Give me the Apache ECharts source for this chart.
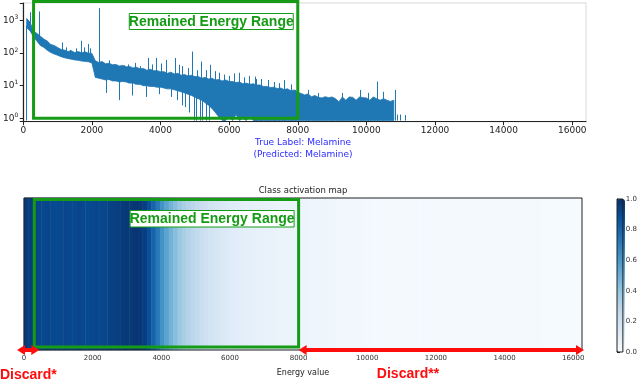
<!DOCTYPE html>
<html>
<head>
<meta charset="utf-8">
<script src="https://cdn.jsdelivr.net/npm/echarts@6/dist/echarts.min.js"></script>
<style>
  html, body { margin: 0; padding: 0; background: #fff; }
  #main { width: 640px; height: 381px; }
</style>
</head>
<body>
<div id="main"></div>
<script>
// spectrum band, read every 100 energy units from 100 to 10800
var bandStart = 100;
var bandStep = 100;
var bandUpper = [
    1150, 880, 470, 400, 330, 270, 235, 185, 172, 150,
    130, 124, 112, 118, 104, 112, 102, 110, 100, 98,
    58, 52, 55, 47, 49, 44, 45, 40, 42, 38,
    39, 35, 37, 33, 34, 30, 32, 29, 29, 27,
    27, 24, 26, 23, 24, 21, 22, 20, 21, 19,
    19, 17, 18, 16, 17, 15, 15.5, 14, 15, 13.5,
    13.5, 12.5, 13, 11.5, 12, 11, 11.5, 10.5, 10.5, 9.5,
    9.5, 8.8, 9, 8.2, 8.5, 7.6, 8, 7, 7.4, 6.2,
    5.8, 5.2, 5.6, 4.6, 5, 4.4, 4.2, 4.6, 4.3, 4.5,
    4, 3.2, 4.5, 3.6, 4.5, 4.4, 3.6, 4.5, 4.3, 4.2,
    3.6, 4.5, 4, 3.6, 4, 3.6, 3.3, 3.6
];
var bandLower = [
    600, 480, 320, 230, 170, 150, 122, 105, 94, 86,
    78, 72, 68, 65, 62, 60, 57, 56, 54, 50,
    18, 17, 16, 15, 15.5, 14, 14, 13, 13.5, 13,
    12, 12, 11, 11, 10, 10, 9.5, 9.5, 9, 9,
    8.5, 8, 8, 7.5, 7, 6.5, 6, 5.5, 5, 4.5,
    4, 3.6, 3, 2.5, 2, 1.5, 1.1, 0.85, 0.85, 1.2,
    0.85, 1.3, 0.85, 1, 0.85, 1.2, 0.85, 0.85, 0.85, 0.85,
    0.85, 0.85, 0.85, 0.85, 0.85, 0.85, 0.85, 0.85, 0.85, 0.85,
    0.85, 0.85, 0.85, 0.85, 0.85, 0.85, 0.85, 0.85, 0.85, 0.85,
    0.85, 0.85, 0.85, 0.85, 0.85, 0.85, 0.85, 0.85, 0.85, 0.85,
    0.85, 0.85, 0.85, 0.85, 0.85, 0.85, 0.85, 0.85
];
// single channels standing out of the band: [energy, from, to]
var spikes = [
    [75, 0.85, 700], [200, 500, 1800], [475, 200, 1900], [1140, 80, 212], [1250, 72, 150],
    [1380, 70, 126], [1550, 62, 140], [1690, 60, 240], [1780, 56, 150], [1880, 55, 190],
    [1950, 55, 140], [2204, 20, 2400], [2350, 16, 38], [2420, 6, 20], [2500, 15, 60],
    [2640, 14, 44], [2790, 3.6, 14], [2930, 13, 42], [3050, 12, 45], [3180, 5, 13],
    [3250, 11, 50], [3420, 11, 40], [3570, 4.5, 10], [3640, 10, 71], [3760, 10, 45],
    [3890, 9, 71], [3950, 5.5, 10], [4020, 9, 48], [4170, 8, 62], [4300, 4.5, 8],
    [4440, 7.5, 71], [4500, 3.6, 8], [4560, 7, 44], [4620, 2.5, 7], [4640, 6.5, 40],
    [4730, 2.2, 6], [4800, 5.5, 35], [4850, 1.5, 6], [4925, 5, 112], [4970, 0.85, 5],
    [5050, 0.85, 5], [5080, 4, 30], [5150, 0.85, 4], [5200, 3.6, 55], [5220, 0.85, 4],
    [5330, 3, 30], [5340, 0.85, 3], [5430, 0.85, 3], [5460, 2.5, 44], [5600, 1.5, 28],
    [5720, 1.1, 25], [5850, 0.85, 22], [6000, 1, 20], [6140, 1, 24], [6300, 1, 25],
    [6450, 1, 18], [6600, 1, 20], [6750, 0.85, 19], [6790, 0.85, 16], [6950, 0.85, 16],
    [7150, 0.85, 15], [7300, 0.85, 13], [7450, 0.85, 12], [7620, 0.85, 15], [7800, 0.85, 11],
    [7940, 0.85, 7.4], [8310, 0.85, 7.4], [8600, 0.85, 6], [9300, 0.85, 6], [9810, 0.85, 7.4],
    [10050, 0.85, 6], [10320, 0.85, 13.4], [10500, 0.85, 6.5], [10830, 0.85, 7.4], [10900, 0.85, 1.3],
    [11000, 0.85, 1.3], [11130, 0.85, 1.25]
];

// class activation map, 127 bins of 128 energy units
var camBinWidth = 128;
var camValues = [
    0.96, 0.95, 0.94,
    0.92, 0.91, 0.92, 0.91, 0.9, 0.91, 0.92, 0.91, 0.91, 0.92, 0.91, 0.9, 0.91, 0.92, 0.91, 0.92, 0.93, 0.94, 0.95,
    0.96, 0.97, 0.97, 0.98, 0.97, 0.95,
    0.88, 0.8, 0.72, 0.62, 0.55, 0.48, 0.43, 0.38, 0.34, 0.31, 0.28, 0.26, 0.23, 0.21, 0.19, 0.17, 0.155, 0.14, 0.13, 0.12,
    0.11, 0.1, 0.095, 0.09, 0.085, 0.08, 0.075, 0.07, 0.068, 0.065, 0.062, 0.06, 0.058, 0.055, 0.052,
    0.05, 0.048, 0.046, 0.045, 0.045, 0.044, 0.042, 0.04,
    0.035, 0.032, 0.03, 0.03, 0.03, 0.028, 0.027, 0.025,
    0.018, 0.017, 0.016, 0.016, 0.015, 0.015, 0.016, 0.015, 0.015, 0.014, 0.015, 0.015, 0.016, 0.015, 0.015,
    0.014, 0.015, 0.015, 0.015, 0.014, 0.015, 0.015, 0.016, 0.015, 0.014, 0.015, 0.015, 0.014, 0.015, 0.015,
    0.014, 0.015, 0.014, 0.015, 0.014, 0.013, 0.014, 0.013, 0.012,
    0.011, 0.011, 0.01, 0.01, 0.01, 0.01, 0.01, 0.01, 0.01
];

var blues = ['#f7fbff', '#deebf7', '#c6dbef', '#9ecae1', '#6baed6', '#4292c6', '#2171b5', '#08519c', '#08306b'];
var keepRange = [300, 8000];
var trueLabel = 'Melamine';
var predLabel = 'Melamine';

var blue = '#1f77b4';
var green = '#169b16';
var red = '#ff0d0d';
var tickFont = 'DejaVu Sans';

var bandData = bandUpper.map(function (u, i) { return [bandStart + bandStep * i, u, bandLower[i]]; });
var spikeLines = spikes.map(function (s) { return { coords: [[s[0], s[1]], [s[0], s[2]]] }; });
var camCats = camValues.map(function (v, i) { return String(i * camBinWidth); });
var camData = camValues.map(function (v, i) { return [i, 0, v]; });

// whole band as one polygon: upper edge left to right, lower edge back
function renderBand(params, api) {
    if (params.dataIndex !== 0) return;
    var top = [], bottom = [];
    bandData.forEach(function (d) {
        top.push(api.coord([d[0], d[1]]));
        bottom.unshift(api.coord([d[0], d[2]]));
    });
    return {
        type: 'polygon',
        shape: { points: top.concat(bottom) },
        style: { fill: blue, stroke: blue, lineWidth: 0.8 }
    };
}

var chart = echarts.init(document.getElementById('main'));
var option = {
    animation: false,
    backgroundColor: '#fff',
    textStyle: { fontFamily: tickFont },
    grid: [
        { left: 23, right: 54, top: 3, height: 118.7, show: true, borderColor: '#e6e6e6', borderWidth: 1.5, backgroundColor: 'transparent' },
        { left: 24, right: 58, top: 198, height: 152, show: true, borderColor: '#222', borderWidth: 1, backgroundColor: 'transparent', z: 3 },
        { left: 617, width: 8, top: 199, height: 153, show: true, borderColor: '#222', borderWidth: 1, backgroundColor: 'transparent', z: 5 }
    ],
    xAxis: [
        {
            type: 'value', gridIndex: 0, min: 0, max: 16400, interval: 2000,
            axisLine: { lineStyle: { color: '#222', width: 1.2 } },
            axisTick: { length: 3.5, lineStyle: { color: '#222' } },
            axisLabel: { fontSize: 9, color: '#222', margin: 4, showMaxLabel: false, fontFamily: tickFont, formatter: function (v) { return String(v); } },
            splitLine: { show: false }
        },
        {
            type: 'category', gridIndex: 1, data: camCats, show: false
        },
        {
            type: 'value', gridIndex: 1, min: 0, max: 16256, interval: 2000, position: 'bottom',
            axisLine: { lineStyle: { color: '#222', width: 1 } },
            axisTick: { length: 3, lineStyle: { color: '#222' } },
            axisLabel: { fontSize: 7, color: '#333', margin: 5, showMaxLabel: false, fontFamily: tickFont, formatter: function (v) { return String(v); } },
            splitLine: { show: false },
            name: 'Energy value', nameLocation: 'middle', nameGap: 19,
            nameTextStyle: { fontSize: 8, color: '#222', fontFamily: tickFont }
        },
        { type: 'value', gridIndex: 2, min: 0, max: 1, show: false }
    ],
    yAxis: [
        {
            type: 'log', gridIndex: 0, min: 0.785, max: 3460, logBase: 10,
            axisLine: { show: true, lineStyle: { color: '#222', width: 1.2 } },
            axisTick: { show: true, length: 3.5, lineStyle: { color: '#222' } },
            splitLine: { show: false },
            axisLabel: {
                fontSize: 9, color: '#222', margin: 5, fontFamily: tickFont,
                formatter: function (v) {
                    var p = Math.log10(v);
                    if (Math.abs(p - Math.round(p)) > 1e-6) return '';
                    return '10{s|' + Math.round(p) + '}';
                },
                rich: { s: { fontSize: 6, color: '#222', padding: [0, 0, 6, 0], fontFamily: tickFont } }
            }
        },
        { type: 'category', gridIndex: 1, data: ['cam'], show: false },
        {
            type: 'value', gridIndex: 2, min: 0, max: 1, interval: 0.2, position: 'right',
            axisLine: { show: true, lineStyle: { color: '#222' } },
            axisTick: { show: true, length: 3, lineStyle: { color: '#222' } },
            splitLine: { show: false },
            axisLabel: { fontSize: 7, color: '#333', margin: 3, fontFamily: tickFont, formatter: function (v) { return v.toFixed(1); } }
        }
    ],
    visualMap: {
        type: 'continuous', seriesIndex: 2, min: 0, max: 1,
        inRange: { color: blues },
        left: 617, top: 199, itemWidth: 8, itemHeight: 153,
        padding: 0, calculable: false, text: null, showLabel: false,
        hoverLink: false, z: 4
    },
    series: [
        {
            type: 'custom', xAxisIndex: 0, yAxisIndex: 0,
            data: bandData, encode: { x: 0, y: [1, 2] },
            renderItem: renderBand, clip: true, z: 2
        },
        {
            type: 'lines', coordinateSystem: 'cartesian2d', xAxisIndex: 0, yAxisIndex: 0,
            data: spikeLines, lineStyle: { color: blue, width: 1, opacity: 1, curveness: 0 }, z: 3
        },
        {
            type: 'heatmap', xAxisIndex: 1, yAxisIndex: 1,
            data: camData, itemStyle: { borderWidth: 0 }, progressive: 0, z: 2
        }
    ]
};
chart.setOption(option);

// annotations placed through the axes
var tx0 = chart.convertToPixel({ xAxisIndex: 0 }, keepRange[0]);
var tx1 = chart.convertToPixel({ xAxisIndex: 0 }, keepRange[1]);
var ty1 = chart.convertToPixel({ yAxisIndex: 0 }, 1);
var bx0 = chart.convertToPixel({ xAxisIndex: 2 }, keepRange[0]);
var bx1 = chart.convertToPixel({ xAxisIndex: 2 }, keepRange[1]);
var bx16 = chart.convertToPixel({ xAxisIndex: 2 }, 16256);
var midX = 303;
var boldFont = 'bold 14px "Liberation Sans", Arial, sans-serif';

function arrowHead(tipX, y, dir) {
    return {
        type: 'polygon', z: 100,
        shape: { points: [[tipX, y], [tipX + dir * 8, y - 5], [tipX + dir * 8, y + 5]] },
        style: { fill: red }
    };
}

chart.setOption({
    graphic: [
        // top: remained range
        { type: 'rect', z: 100, shape: { x: tx0, y: 1.5, width: tx1 - tx0, height: ty1 - 1.5 }, style: { fill: 'none', stroke: green, lineWidth: 3 } },
        { type: 'rect', z: 101, shape: { x: tx1 - 168.5, y: 13.5, width: 164, height: 16 }, style: { fill: '#fff', stroke: green, lineWidth: 1 } },
        { type: 'text', z: 102, x: tx1 - 86.5, y: 22, style: { text: 'Remained Energy Range', fill: green, font: boldFont, align: 'center', verticalAlign: 'middle' } },
        // bottom: remained range
        { type: 'rect', z: 100, shape: { x: bx0, y: 199.5, width: bx1 - bx0, height: 147.5 }, style: { fill: 'none', stroke: green, lineWidth: 3 } },
        { type: 'rect', z: 101, shape: { x: bx1 - 168.5, y: 210.5, width: 164, height: 16.5 }, style: { fill: '#fff', stroke: green, lineWidth: 1 } },
        { type: 'text', z: 102, x: bx1 - 86.5, y: 219, style: { text: 'Remained Energy Range', fill: green, font: boldFont, align: 'center', verticalAlign: 'middle' } },
        // labels under the spectrum
        { type: 'text', z: 100, x: midX, y: 143, style: { text: 'True Label: ' + trueLabel, fill: '#2a2aff', font: '9px "DejaVu Sans"', align: 'center', verticalAlign: 'middle' } },
        { type: 'text', z: 100, x: midX, y: 155, style: { text: '(Predicted: ' + predLabel + ')', fill: '#2a2aff', font: '9px "DejaVu Sans"', align: 'center', verticalAlign: 'middle' } },
        { type: 'text', z: 100, x: midX, y: 191, style: { text: 'Class activation map', fill: '#222', font: '8.5px "DejaVu Sans"', align: 'center', verticalAlign: 'middle' } },
        // discard arrows
        { type: 'line', z: 100, shape: { x1: 22, y1: 350, x2: 33, y2: 350 }, style: { stroke: red, lineWidth: 4 } },
        arrowHead(17, 350, 1),
        arrowHead(bx0 + 5, 350, -1),
        { type: 'line', z: 100, shape: { x1: bx1 + 5, y1: 350, x2: bx16 - 4, y2: 350 }, style: { stroke: red, lineWidth: 4 } },
        arrowHead(bx1, 350, 1),
        arrowHead(bx16 + 2, 350, -1),
        { type: 'text', z: 100, x: 0, y: 375, style: { text: 'Discard*', fill: red, font: boldFont, align: 'left', verticalAlign: 'middle' } },
        { type: 'text', z: 100, x: 408, y: 374, style: { text: 'Discard**', fill: red, font: boldFont, align: 'center', verticalAlign: 'middle' } }
    ]
});
</script>
</body>
</html>
